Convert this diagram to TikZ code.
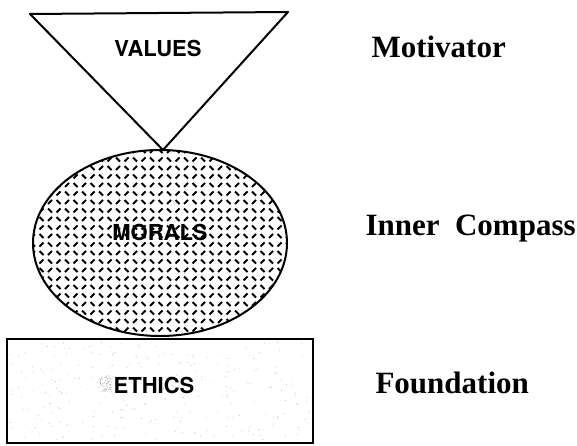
\documentclass[tikz,border=0pt]{standalone}
\usepackage{fontspec}
\setmainfont{Liberation Serif}
\newfontfamily\shapefont{TeX Gyre Heros}

\begin{document}
\begin{tikzpicture}[x = 1pt, y = -1pt]
	\def\word{node [anchor = base, font = \shapefont\bfseries\fontsize{22}{22}\selectfont] }
	\def\role{node [anchor = base west, font = \bfseries\fontsize{31}{31}\selectfont] }
	\useasboundingbox (0, 0) rectangle (577, 446);

	% triangle on top
	\coordinate (v1) at (30, 14);
	\coordinate (v2) at (288, 12);
	\coordinate (v3) at (163, 150);
	\draw [line width = 2pt, line join = round] (v1) -- (v2) -- (v3) -- cycle;

	% ellipse, filled with short dashes
	\begin{scope}
		\clip (160, 243) ellipse [x radius = 127, y radius = 93];
		\foreach \i in {0, ..., 31} {
			\foreach \j in {0, ..., 22} {
				\pgfmathsetmacro\s{2 * mod(\i + \j, 2) - 1}
				\draw [line width = 2pt] (31 + 8.5 * \i, 151 + 8.5 * \j - 2 * \s) -- ++(4, 4 * \s);
			}
		}
	\end{scope}
	\draw [line width = 2pt] (160, 243) ellipse [x radius = 127, y radius = 93];

	% box at the bottom, speckled
	\pgfmathsetseed{7}
	\foreach \k in {1, ..., 260}
		\fill [gray!55] (10 + 300 * rnd, 342 + 98 * rnd) circle [radius = .5];
	\foreach \k in {1, ..., 60}
		\fill [gray!70] (98 + 14 * rnd, 376 + 16 * rnd) circle [radius = .5];
	\draw [line width = 2.5pt] (7, 339) rectangle (313, 443);

	\path (158, 57) \word (values) {VALUES};
	\path (160, 240) \word (morals) {MORALS};
	\path (154, 393) \word (ethics) {ETHICS};

	\path (368, 58) \role (motivator) {Motivator};
	\path (362, 235) \role (compass) {Inner\ \ Compass};
	\path (372, 393) \role (foundation) {Foundation};
\end{tikzpicture}
\end{document}
